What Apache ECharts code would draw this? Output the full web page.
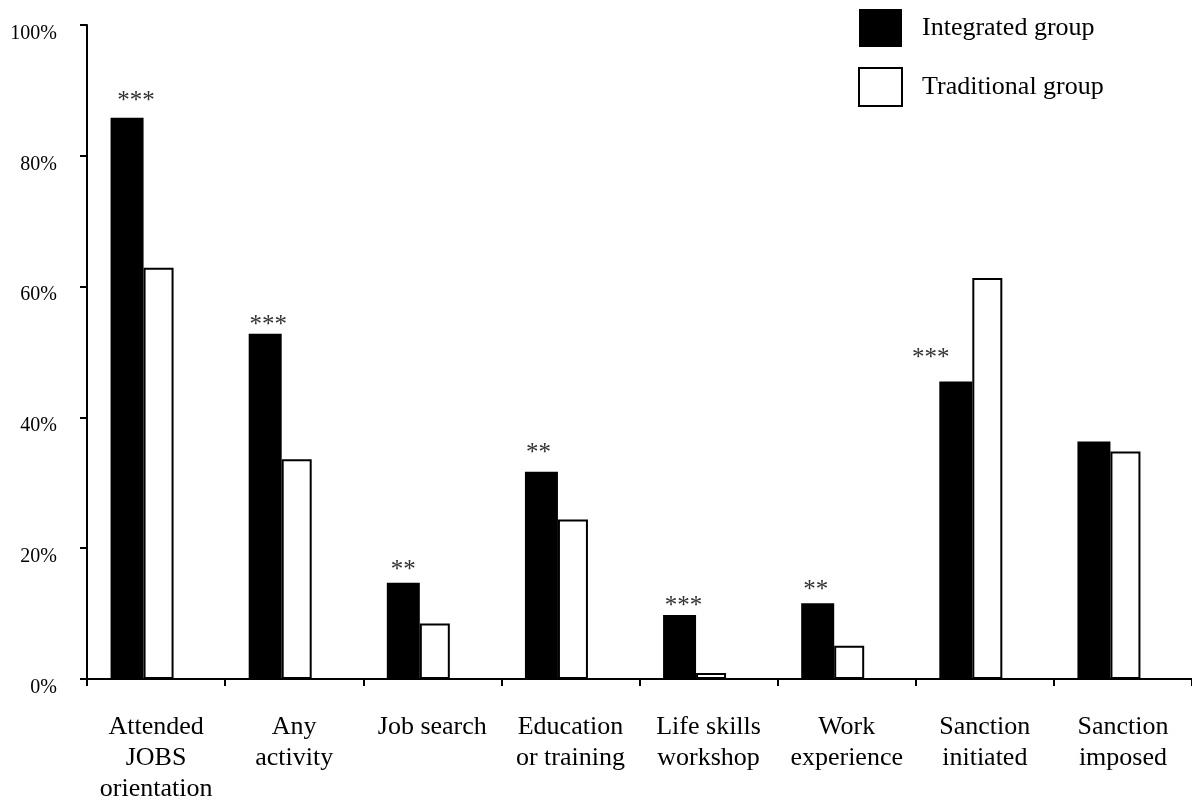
<!DOCTYPE html>
<html>
<head>
<meta charset="utf-8">
<script src="https://cdn.jsdelivr.net/npm/echarts@6/dist/echarts.min.js"></script>
<style>
html,body{margin:0;padding:0;background:#fff;}
#chart{width:1192px;height:805px;}
</style>
</head>
<body>
<div id="chart"></div>
<script>
const categories = ['Attended\nJOBS\norientation', 'Any\nactivity', 'Job search', 'Education\nor training', 'Life skills\nworkshop', 'Work\nexperience', 'Sanction\ninitiated', 'Sanction\nimposed'];
const integratedGroup = [85.8, 52.8, 14.7, 31.7, 9.8, 11.6, 45.5, 36.3];
const traditionalGroup = [62.9, 33.6, 8.5, 24.4, 0.9, 5.1, 61.3, 34.8];
const significance = ['***', '***', '**', '**', '***', '**', '***', ''];
const yTickValues = [0, 20, 40, 60, 80, 100];

// label placement tweaks (style only)
const starOffsets = [[9, -4], [3, 4], [0, 0], [-3, -6], [4, 4], [-2, 0], [-25, -10], [0, 0]];

const FONT = "'Liberation Serif', 'Times New Roman', serif";

const chart = echarts.init(document.getElementById('chart'));
chart.setOption({
  animation: false,
  backgroundColor: '#fff',
  grid: { left: 87, right: -8, top: 25, bottom: 125, containLabel: false },
  legend: {
    orient: 'vertical',
    left: 853,
    top: 4,
    itemWidth: 43,
    itemHeight: 38,
    itemGap: 20,
    icon: 'rect',
    selectedMode: false,
    data: ['Integrated group', 'Traditional group'],
    textStyle: { fontFamily: FONT, fontSize: 26, color: '#000', padding: [4, 0, 0, 15] }
  },
  xAxis: {
    type: 'category',
    data: categories,
    axisLine: { lineStyle: { color: '#000', width: 2 } },
    axisTick: { show: true, length: 7, lineStyle: { color: '#000', width: 2 } },
    axisLabel: { interval: 0, margin: 33, fontFamily: FONT, fontSize: 26, lineHeight: 31, color: '#000' },
    splitLine: { show: false }
  },
  yAxis: {
    type: 'value',
    min: yTickValues[0],
    max: yTickValues[yTickValues.length - 1],
    interval: 20,
    axisLine: { show: true, lineStyle: { color: '#000', width: 2 } },
    axisTick: { show: true, length: 7, lineStyle: { color: '#000', width: 2 } },
    axisLabel: { margin: 30, fontFamily: FONT, fontSize: 20, color: '#000', formatter: '{value}%', verticalAlign: 'top', lineHeight: 17 },
    splitLine: { show: false }
  },
  series: [
    {
      name: 'Integrated group',
      type: 'bar',
      barWidth: 33,
      barGap: '0%',
      itemStyle: { color: '#000' },
      data: integratedGroup.map((v, i) => ({
        value: v,
        label: {
          show: significance[i] !== '',
          position: 'top',
          distance: 0,
          offset: starOffsets[i],
          formatter: significance[i],
          fontFamily: FONT,
          fontSize: 25,
          lineHeight: 25,
          color: '#333'
        }
      }))
    },
    {
      name: 'Traditional group',
      type: 'bar',
      barWidth: 30,
      barGap: '0%',
      itemStyle: { color: '#fff', borderColor: '#000', borderWidth: 2 },
      data: traditionalGroup
    },
    {
      name: 'spacer',
      type: 'bar',
      barWidth: 28,
      barGap: '0%',
      silent: true,
      itemStyle: { color: 'rgba(0,0,0,0)' },
      data: categories.map(() => null)
    }
  ]
});
</script>
</body>
</html>
